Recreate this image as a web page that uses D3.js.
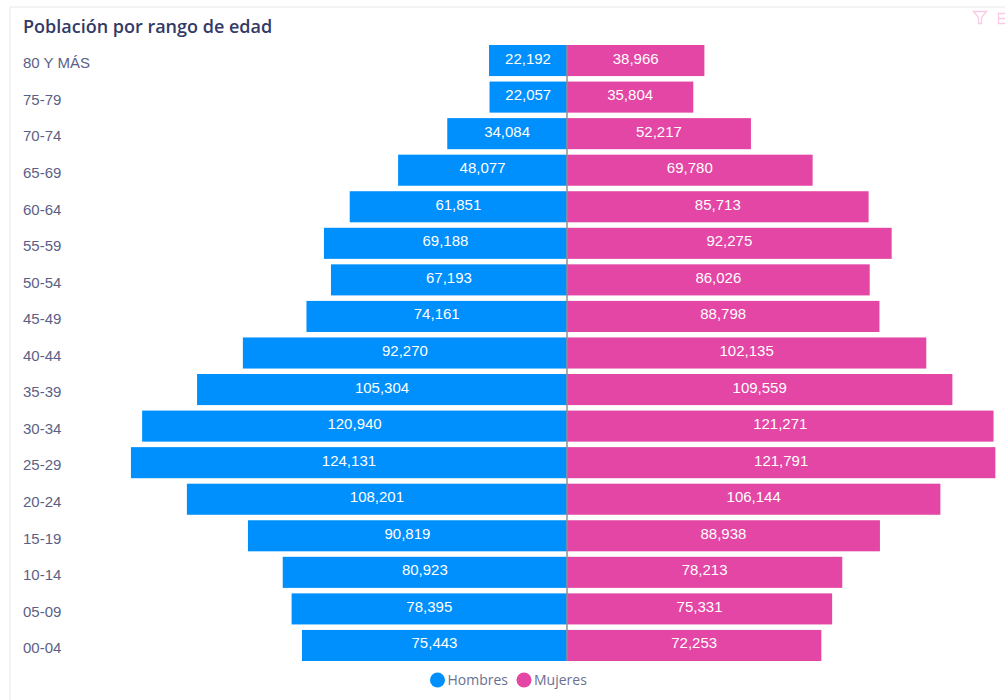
<!DOCTYPE html>
<html>
<head>
<meta charset="utf-8">
<script src="https://cdn.jsdelivr.net/npm/d3@7"></script>
<style>
    html, body { margin: 0; padding: 0; background: #fff; }
    svg { display: block; }
    text { font-family: "Liberation Sans", Arial, sans-serif; }
</style>
</head>
<body>
<svg id="chart"></svg>
<script>
// rangos de edad, de arriba hacia abajo
const ageGroups = ['80 Y MÁS', '75-79', '70-74', '65-69', '60-64', '55-59', '50-54', '45-49',
    '40-44', '35-39', '30-34', '25-29', '20-24', '15-19', '10-14', '05-09', '00-04'];
const hombres = [22192, 22057, 34084, 48077, 61851, 69188, 67193, 74161,
    92270, 105304, 120940, 124131, 108201, 90819, 80923, 78395, 75443];
const mujeres = [38966, 35804, 52217, 69780, 85713, 92275, 86026, 88798,
    102135, 109559, 121271, 121791, 106144, 88938, 78213, 75331, 72253];
const seriesNames = ['Hombres', 'Mujeres'];
const seriesColors = ['#0090fd', '#e346a4'];

const width = 1005;
const height = 700;
const centerX = 567;
const plotTop = 45;
const plotBottom = 661;
const pxPerUnit = 0.003513;

const svg = d3.select('#chart')
    .attr('width', width)
    .attr('height', height);

// marco del panel
svg.append('line').attr('x1', 10).attr('x2', width).attr('y1', 7).attr('y2', 7)
    .attr('stroke', '#efefef').attr('stroke-width', 1.5);
svg.append('line').attr('x1', 10).attr('x2', 10).attr('y1', 7).attr('y2', height)
    .attr('stroke', '#efefef').attr('stroke-width', 1.5);

// titulo
svg.append('text')
    .attr('x', 23)
    .attr('y', 33)
    .attr('fill', '#333a66')
    .style('font-family', '"Open Sans", sans-serif')
    .style('font-size', '18px')
    .style('font-weight', 600)
    .text('Población por rango de edad');

// iconos del encabezado
svg.append('path')
    .attr('d', 'M973.5 11.5 H986.5 L981.5 17.5 V23.5 H978.5 V17.5 Z')
    .attr('fill', 'none')
    .attr('stroke', '#f9c9e6')
    .attr('stroke-width', 1.3);
svg.append('path')
    .attr('d', 'M1005 13.5 H998.5 V23.5 H1005 M998.5 18.5 H1005')
    .attr('fill', 'none')
    .attr('stroke', '#f9c9e6')
    .attr('stroke-width', 1.3);

// escalas
const scaleY = d3.scaleBand()
    .domain(ageGroups)
    .range([plotTop, plotBottom])
    .paddingInner(0.15)
    .paddingOuter(0);

const maxValue = 124131;
const scaleLeft = d3.scaleLinear().domain([0, maxValue]).range([centerX, centerX - maxValue * pxPerUnit]);
const scaleRight = d3.scaleLinear().domain([0, maxValue]).range([centerX + 0.5, centerX + 0.5 + maxValue * pxPerUnit]);

// barras de hombres
svg.selectAll('.bar-h')
    .data(hombres)
    .enter()
    .append('rect')
    .attr('class', 'bar-h')
    .attr('x', d => scaleLeft(d))
    .attr('y', (d, i) => scaleY(ageGroups[i]))
    .attr('width', d => centerX - scaleLeft(d))
    .attr('height', scaleY.bandwidth())
    .style('fill', seriesColors[0]);

// barras de mujeres
svg.selectAll('.bar-m')
    .data(mujeres)
    .enter()
    .append('rect')
    .attr('class', 'bar-m')
    .attr('x', centerX)
    .attr('y', (d, i) => scaleY(ageGroups[i]))
    .attr('width', d => scaleRight(d) - centerX)
    .attr('height', scaleY.bandwidth())
    .style('fill', seriesColors[1]);

// linea central
svg.append('line')
    .attr('x1', centerX).attr('x2', centerX)
    .attr('y1', plotTop).attr('y2', plotBottom)
    .attr('stroke', '#8f8f8f')
    .attr('stroke-width', 1.5);

// etiquetas de valores
const fmt = d3.format(',');
svg.selectAll('.label-h')
    .data(hombres)
    .enter()
    .append('text')
    .attr('class', 'label-h')
    .attr('x', d => (scaleLeft(d) + centerX) / 2)
    .attr('y', (d, i) => scaleY(ageGroups[i]) + scaleY.bandwidth() / 2)
    .attr('dy', '0.2em')
    .attr('text-anchor', 'middle')
    .attr('fill', '#fff')
    .style('font-size', '15px')
    .text(d => fmt(d));

svg.selectAll('.label-m')
    .data(mujeres)
    .enter()
    .append('text')
    .attr('class', 'label-m')
    .attr('x', d => (scaleRight(d) + centerX) / 2)
    .attr('y', (d, i) => scaleY(ageGroups[i]) + scaleY.bandwidth() / 2)
    .attr('dy', '0.2em')
    .attr('text-anchor', 'middle')
    .attr('fill', '#fff')
    .style('font-size', '15px')
    .text(d => fmt(d));

// eje de rangos de edad
const axisY = d3.axisLeft(scaleY).tickSize(0).tickPadding(0);
const axisG = svg.append('g')
    .attr('transform', 'translate(23, 3)')
    .call(axisY);
axisG.select('.domain').remove();
axisG.selectAll('text')
    .attr('text-anchor', 'start')
    .attr('fill', '#5b5f86')
    .style('font-family', '"Liberation Sans", Arial, sans-serif')
    .style('font-size', '15px');

// leyenda
const legendX = d3.scaleOrdinal().domain(seriesNames).range([437.5, 524]);
const legend = svg.selectAll('.legend')
    .data(seriesNames)
    .enter()
    .append('g')
    .attr('class', 'legend')
    .attr('transform', d => `translate(${legendX(d)}, 680)`);
legend.append('circle')
    .attr('r', 7.5)
    .style('fill', (d, i) => seriesColors[i]);
legend.append('text')
    .attr('x', 10)
    .attr('dy', '0.35em')
    .attr('fill', '#6b6f92')
    .style('font-family', '"Open Sans", sans-serif')
    .style('font-size', '14px')
    .text(d => d);
</script>
</body>
</html>
